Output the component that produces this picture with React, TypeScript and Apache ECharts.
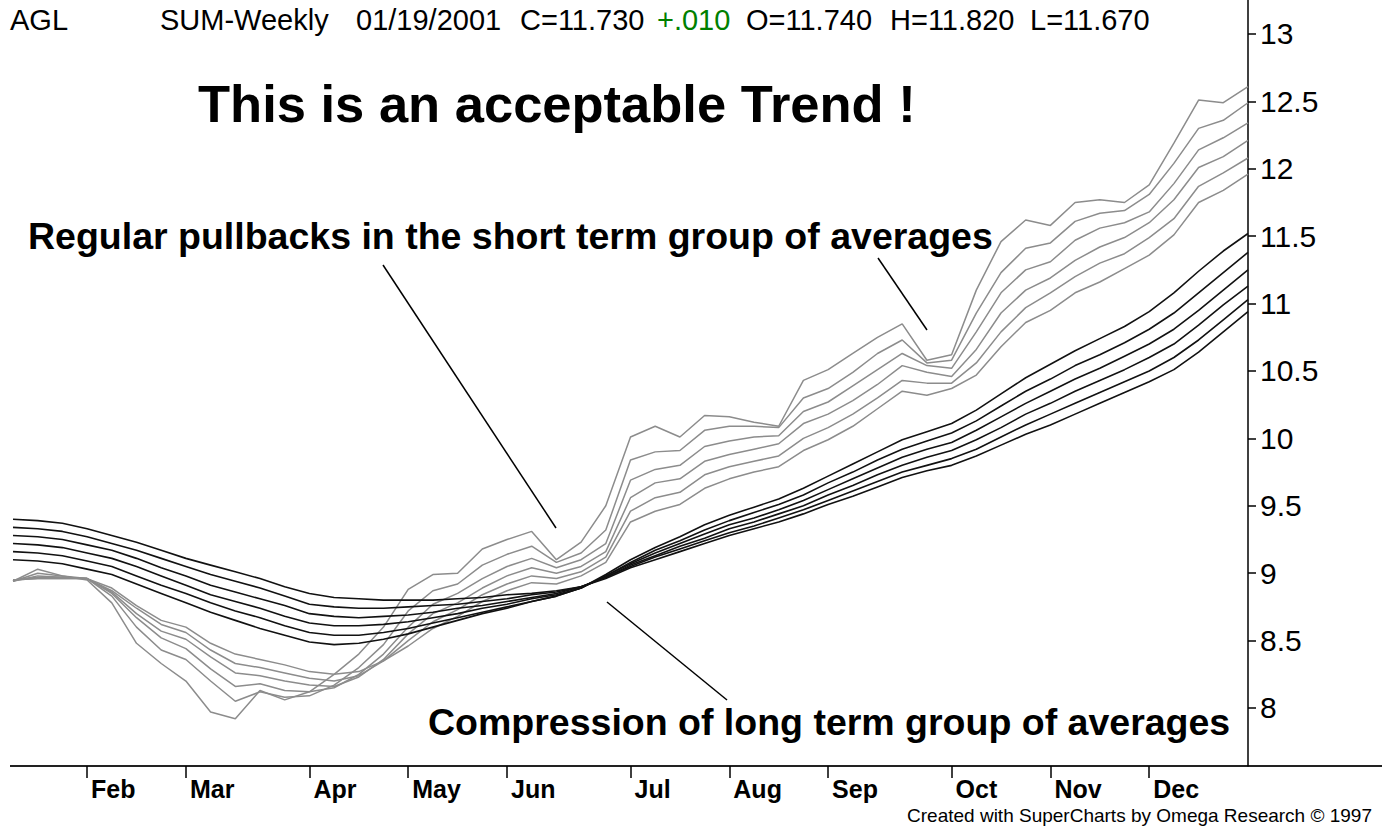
import React, { useEffect, useRef } from "react";
import * as echarts from "echarts";

// Weekly closes (Fridays) from 2000-01-14 to 2000-12-29
const START = Date.UTC(2000, 0, 14);
const weeks: string[] = Array.from({ length: 51 }, (_, i) =>
  new Date(START + i * 7 * 86400000).toISOString().slice(0, 10)
);
const monthNames = ["Jan", "Feb", "Mar", "Apr", "May", "Jun", "Jul", "Aug", "Sep", "Oct", "Nov", "Dec"];
const yTicks = [8, 8.5, 9, 9.5, 10, 10.5, 11, 11.5, 12, 12.5, 13];

// Short term group (grey)
const short1 = [8.94, 9.03, 8.98, 8.95, 8.78, 8.48, 8.33, 8.20, 7.97, 7.92, 8.13, 8.06, 8.12, 8.25, 8.40, 8.60, 8.88, 8.99, 9.00, 9.18, 9.25, 9.31, 9.10, 9.23, 9.50, 10.01, 10.09, 10.01, 10.17, 10.16, 10.12, 10.09, 10.43, 10.51, 10.63, 10.75, 10.85, 10.58, 10.62, 11.10, 11.46, 11.62, 11.58, 11.75, 11.77, 11.75, 11.88, 12.19, 12.51, 12.49, 12.61];
const short2 = [8.94, 9.00, 8.98, 8.96, 8.83, 8.60, 8.43, 8.36, 8.20, 8.05, 8.12, 8.08, 8.09, 8.17, 8.30, 8.47, 8.72, 8.87, 8.92, 9.06, 9.14, 9.20, 9.08, 9.15, 9.32, 9.84, 9.90, 9.91, 10.06, 10.09, 10.09, 10.08, 10.30, 10.37, 10.49, 10.63, 10.73, 10.56, 10.58, 10.93, 11.23, 11.41, 11.45, 11.61, 11.67, 11.69, 11.81, 12.04, 12.30, 12.36, 12.49];
const short3 = [8.94, 8.98, 8.97, 8.96, 8.85, 8.67, 8.52, 8.44, 8.29, 8.16, 8.18, 8.13, 8.12, 8.15, 8.25, 8.40, 8.60, 8.77, 8.85, 8.96, 9.05, 9.11, 9.04, 9.10, 9.22, 9.69, 9.77, 9.80, 9.94, 9.98, 10.01, 10.02, 10.20, 10.27, 10.39, 10.51, 10.63, 10.54, 10.52, 10.79, 11.08, 11.25, 11.31, 11.47, 11.56, 11.60, 11.68, 11.89, 12.14, 12.23, 12.34];
const short4 = [8.95, 8.97, 8.97, 8.96, 8.86, 8.70, 8.57, 8.51, 8.38, 8.26, 8.24, 8.20, 8.17, 8.16, 8.23, 8.36, 8.55, 8.70, 8.78, 8.89, 8.98, 9.04, 9.00, 9.05, 9.16, 9.56, 9.67, 9.70, 9.83, 9.88, 9.92, 9.96, 10.11, 10.18, 10.28, 10.40, 10.54, 10.49, 10.46, 10.66, 10.93, 11.10, 11.19, 11.32, 11.42, 11.49, 11.60, 11.77, 12.01, 12.09, 12.21];
const short5 = [8.95, 8.96, 8.96, 8.96, 8.87, 8.74, 8.62, 8.56, 8.43, 8.33, 8.30, 8.26, 8.22, 8.20, 8.24, 8.35, 8.50, 8.64, 8.73, 8.84, 8.92, 8.98, 8.96, 9.01, 9.12, 9.46, 9.56, 9.60, 9.73, 9.79, 9.83, 9.87, 10.00, 10.08, 10.18, 10.30, 10.43, 10.41, 10.41, 10.56, 10.79, 10.97, 11.08, 11.20, 11.30, 11.37, 11.49, 11.63, 11.87, 11.97, 12.08];
const short6 = [8.95, 8.96, 8.96, 8.96, 8.89, 8.76, 8.65, 8.60, 8.48, 8.40, 8.36, 8.32, 8.27, 8.25, 8.27, 8.35, 8.46, 8.59, 8.68, 8.79, 8.87, 8.93, 8.92, 8.98, 9.08, 9.38, 9.46, 9.51, 9.63, 9.70, 9.75, 9.79, 9.91, 9.99, 10.09, 10.22, 10.35, 10.32, 10.37, 10.47, 10.68, 10.86, 10.95, 11.08, 11.16, 11.26, 11.36, 11.51, 11.75, 11.84, 11.96];

// Long term group (black)
const long1 = [9.10, 9.09, 9.07, 9.03, 8.99, 8.92, 8.85, 8.78, 8.71, 8.65, 8.59, 8.54, 8.49, 8.47, 8.48, 8.51, 8.55, 8.60, 8.65, 8.70, 8.74, 8.79, 8.83, 8.89, 8.99, 9.10, 9.19, 9.27, 9.36, 9.43, 9.49, 9.55, 9.63, 9.72, 9.81, 9.90, 9.99, 10.05, 10.11, 10.21, 10.33, 10.45, 10.55, 10.65, 10.74, 10.83, 10.94, 11.08, 11.24, 11.39, 11.52];
const long2 = [9.16, 9.15, 9.13, 9.09, 9.05, 8.98, 8.91, 8.85, 8.78, 8.72, 8.67, 8.61, 8.56, 8.54, 8.54, 8.56, 8.59, 8.63, 8.67, 8.71, 8.75, 8.79, 8.83, 8.89, 8.98, 9.08, 9.17, 9.24, 9.32, 9.39, 9.45, 9.51, 9.58, 9.67, 9.75, 9.84, 9.92, 9.98, 10.04, 10.13, 10.24, 10.35, 10.44, 10.54, 10.62, 10.71, 10.81, 10.93, 11.08, 11.23, 11.38];
const long3 = [9.22, 9.21, 9.19, 9.15, 9.11, 9.05, 8.98, 8.91, 8.84, 8.79, 8.74, 8.68, 8.63, 8.61, 8.61, 8.62, 8.64, 8.67, 8.70, 8.74, 8.77, 8.81, 8.84, 8.89, 8.98, 9.07, 9.15, 9.22, 9.29, 9.36, 9.41, 9.47, 9.54, 9.62, 9.70, 9.78, 9.86, 9.92, 9.97, 10.06, 10.16, 10.26, 10.35, 10.44, 10.52, 10.61, 10.70, 10.81, 10.95, 11.10, 11.25];
const long4 = [9.28, 9.27, 9.25, 9.21, 9.17, 9.11, 9.04, 8.98, 8.91, 8.86, 8.81, 8.76, 8.70, 8.68, 8.67, 8.68, 8.69, 8.71, 8.74, 8.76, 8.79, 8.82, 8.85, 8.90, 8.97, 9.06, 9.13, 9.20, 9.26, 9.33, 9.38, 9.44, 9.50, 9.58, 9.65, 9.73, 9.80, 9.86, 9.91, 9.99, 10.08, 10.18, 10.26, 10.35, 10.43, 10.51, 10.60, 10.70, 10.84, 10.99, 11.13];
const long5 = [9.34, 9.33, 9.31, 9.27, 9.22, 9.17, 9.11, 9.05, 8.99, 8.94, 8.89, 8.83, 8.77, 8.75, 8.74, 8.74, 8.75, 8.76, 8.77, 8.79, 8.81, 8.84, 8.86, 8.90, 8.97, 9.05, 9.12, 9.18, 9.24, 9.30, 9.35, 9.41, 9.47, 9.54, 9.61, 9.68, 9.75, 9.80, 9.85, 9.92, 10.01, 10.10, 10.18, 10.26, 10.34, 10.42, 10.50, 10.60, 10.73, 10.88, 11.03];
const long6 = [9.40, 9.39, 9.37, 9.33, 9.28, 9.23, 9.17, 9.11, 9.06, 9.01, 8.96, 8.90, 8.85, 8.82, 8.81, 8.80, 8.80, 8.80, 8.81, 8.82, 8.84, 8.85, 8.87, 8.90, 8.96, 9.04, 9.10, 9.16, 9.22, 9.28, 9.33, 9.38, 9.44, 9.51, 9.57, 9.64, 9.71, 9.76, 9.80, 9.87, 9.95, 10.03, 10.10, 10.18, 10.26, 10.34, 10.42, 10.51, 10.64, 10.79, 10.94];

const shortGroup = [short1, short2, short3, short4, short5, short6];
const longGroup = [long1, long2, long3, long4, long5, long6];

function monthLabel(v: string): string {
  const d = new Date(v + "T00:00:00Z");
  return d.getUTCDate() <= 7 ? monthNames[d.getUTCMonth()] : "";
}

const FONT = '"Liberation Sans", Arial, Helvetica, sans-serif';

export default function App() {
  const ref = useRef<HTMLDivElement>(null);
  useEffect(() => {
    if (!ref.current) return;
    const chart = echarts.init(ref.current, null, { renderer: "svg" });
    const series: any[] = [];
    shortGroup.forEach((d, k) =>
      series.push({
        name: "short" + (k + 1),
        type: "line",
        data: d,
        symbol: "none",
        lineStyle: { color: "#8c8c8c", width: 1.5 },
        silent: true,
      })
    );
    longGroup.forEach((d, k) =>
      series.push({
        name: "long" + (k + 1),
        type: "line",
        data: d,
        symbol: "none",
        lineStyle: { color: "#111111", width: 1.6 },
        silent: true,
      })
    );

    const hdr = (text: string, x: number, fill = "#000") => ({
      type: "text",
      x,
      y: 20,
      style: { text, fill, font: `29px ${FONT}`, verticalAlign: "middle", align: "left" },
    });

    chart.setOption({
      animation: false,
      backgroundColor: "#ffffff",
      grid: { left: 13, right: 134, top: 0, bottom: 64 },
      xAxis: {
        type: "category",
        data: weeks,
        boundaryGap: false,
        axisLine: { show: false },
        axisTick: {
          show: true,
          interval: (_i: number, v: string) => monthLabel(v) !== "",
          length: 12,
          lineStyle: { color: "#000", width: 1.5 },
        },
        axisLabel: {
          interval: (_i: number, v: string) => monthLabel(v) !== "",
          formatter: (v: string) => monthLabel(v),
          align: "left",
          margin: 10,
          padding: [0, 0, 0, 4],
          color: "#000",
          fontFamily: FONT,
          fontWeight: "bold",
          fontSize: 25,
        },
        splitLine: { show: false },
      },
      yAxis: {
        type: "value",
        position: "right",
        min: 7.5697,
        max: 13.2522,
        axisLine: { show: true, lineStyle: { color: "#000", width: 1.5 } },
        axisTick: { show: true, customValues: yTicks, length: 8, lineStyle: { color: "#000", width: 1.5 } },
        axisLabel: {
          customValues: yTicks,
          margin: 12,
          color: "#000",
          fontFamily: FONT,
          fontSize: 30,
        },
        splitLine: { show: false },
      },
      series,
      graphic: [
        { type: "line", shape: { x1: 10, y1: 766, x2: 1382, y2: 766 }, style: { stroke: "#222", lineWidth: 2 } },
        hdr("AGL", 10),
        hdr("SUM-Weekly", 160),
        hdr("01/19/2001", 356),
        hdr("C=11.730", 520),
        hdr("+.010", 657, "#008000"),
        hdr("O=11.740", 746),
        hdr("H=11.820", 890),
        hdr("L=11.670", 1030),
        {
          type: "text",
          x: 198,
          y: 103,
          style: { text: "This is an acceptable Trend !", fill: "#000", font: `bold 52.5px ${FONT}`, verticalAlign: "middle" },
        },
        {
          type: "text",
          x: 28,
          y: 236,
          style: { text: "Regular pullbacks in the short term group of averages", fill: "#000", font: `bold 37.5px ${FONT}`, verticalAlign: "middle" },
        },
        {
          type: "text",
          x: 428,
          y: 722,
          style: { text: "Compression of long term group of averages", fill: "#000", font: `bold 37.5px ${FONT}`, verticalAlign: "middle" },
        },
        {
          type: "text",
          x: 1372,
          y: 815,
          style: { text: "Created with SuperCharts by Omega Research \u00A9 1997", fill: "#000", font: `19px ${FONT}`, verticalAlign: "middle", align: "right" },
        },
        { type: "line", shape: { x1: 383, y1: 265, x2: 556, y2: 528 }, style: { stroke: "#000", lineWidth: 1.5 } },
        { type: "line", shape: { x1: 878, y1: 258, x2: 927, y2: 330 }, style: { stroke: "#000", lineWidth: 1.5 } },
        { type: "line", shape: { x1: 607, y1: 602, x2: 727, y2: 700 }, style: { stroke: "#000", lineWidth: 1.5 } },
      ],
    });
    return () => chart.dispose();
  }, []);
  return (
    <div
      ref={ref}
      style={{ position: "absolute", left: 0, top: 0, width: 1382, height: 830, background: "#fff" }}
    />
  );
}
